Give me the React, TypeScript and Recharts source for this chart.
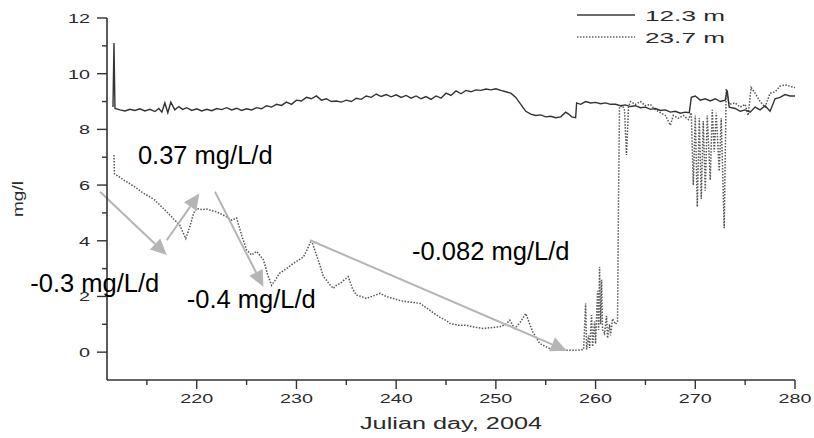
import React from 'react';
import { LineChart, Line, XAxis, YAxis, ReferenceLine, ReferenceDot, Legend } from 'recharts';

// ---- Data (Julian day, mg/l) ----
const days123 = [211.6, 211.7, 211.8, 212.3, 212.8, 213.3, 213.8, 214.3, 214.8, 215.3, 215.8, 216.2, 216.5, 216.8, 217.1, 217.4, 217.8, 218.2, 218.6, 219.0, 219.5, 220.0, 220.5, 221.0, 221.5, 222.0, 222.5, 223.0, 223.5, 224.0, 224.5, 225.0, 225.5, 226.0, 226.5, 227.0, 227.5, 228.0, 228.5, 229.0, 229.5, 230.0, 230.5, 231.0, 231.5, 232.0, 232.5, 233.0, 233.5, 234.0, 234.5, 235.0, 235.5, 236.0, 236.5, 237.0, 237.5, 238.0, 238.5, 239.0, 239.5, 240.0, 240.5, 241.0, 241.5, 242.0, 242.5, 243.0, 243.5, 244.0, 244.5, 245.0, 245.5, 246.0, 246.5, 247.0, 247.5, 248.0, 248.5, 249.0, 249.5, 250.0, 250.5, 251.0, 251.5, 252.0, 252.5, 253.0, 253.5, 254.0, 254.5, 255.0, 255.5, 256.0, 256.5, 257.0, 257.3, 257.6, 258.0, 258.1, 258.5, 259.0, 259.5, 260.0, 260.5, 261.0, 261.5, 262.0, 262.5, 263.0, 263.5, 264.0, 264.5, 265.0, 265.5, 266.0, 266.5, 267.0, 267.5, 268.0, 268.5, 269.0, 269.4, 269.6, 270.0, 270.5, 271.0, 271.5, 272.0, 272.5, 273.0, 273.2, 273.4, 274.0, 274.5, 275.0, 275.5, 276.0, 276.5, 277.0, 277.5, 278.0, 278.5, 279.0, 279.5, 280.0];
const vals123 = [8.8, 11.1, 8.75, 8.7, 8.66, 8.72, 8.68, 8.74, 8.66, 8.72, 8.64, 8.75, 8.62, 8.95, 8.6, 8.98, 8.7, 8.82, 8.72, 8.78, 8.68, 8.74, 8.66, 8.72, 8.67, 8.75, 8.71, 8.78, 8.7, 8.76, 8.68, 8.74, 8.7, 8.78, 8.74, 8.85, 8.8, 8.9, 8.86, 8.98, 8.9, 9.05, 9.02, 9.15, 9.1, 9.2, 9.05, 9.1, 9.0, 9.02, 8.98, 9.05, 9.0, 9.12, 9.08, 9.2, 9.15, 9.27, 9.18, 9.25, 9.17, 9.24, 9.15, 9.22, 9.12, 9.2, 9.1, 9.18, 9.08, 9.2, 9.12, 9.3, 9.22, 9.38, 9.28, 9.4, 9.35, 9.42, 9.4, 9.45, 9.42, 9.46, 9.4, 9.35, 9.3, 9.15, 8.9, 8.65, 8.55, 8.5, 8.52, 8.45, 8.47, 8.42, 8.45, 8.62, 8.55, 8.45, 8.42, 8.95, 8.9, 9.0, 8.95, 8.97, 8.92, 8.95, 8.9, 8.9, 8.85, 8.88, 8.82, 8.85, 8.78, 8.8, 8.72, 8.75, 8.68, 8.7, 8.62, 8.65, 8.58, 8.62, 8.6, 9.15, 9.2, 9.05, 9.1, 9.02, 9.1, 9.0, 9.05, 9.4, 8.8, 8.75, 8.65, 8.7, 8.62, 8.8, 8.7, 8.85, 8.65, 9.1, 9.15, 9.25, 9.2, 9.2];

const days237 = [211.7, 211.75, 212.2, 212.8, 213.5, 214.0, 214.6, 215.2, 215.8, 216.4, 217.0, 217.5, 217.8, 218.3, 218.9, 219.3, 219.7, 220.0, 220.5, 221.0, 221.5, 222.0, 222.5, 223.0, 223.5, 224.0, 224.5, 225.0, 225.5, 226.0, 226.7, 227.1, 227.5, 227.9, 228.3, 229.0, 229.7, 230.2, 230.7, 231.1, 231.5, 232.0, 232.4, 232.7, 233.0, 233.4, 233.7, 234.0, 234.4, 234.8, 235.2, 235.6, 236.0, 236.5, 237.0, 237.7, 238.4, 239.0, 239.7, 240.4, 241.1, 241.8, 242.4, 243.0, 243.7, 244.4, 245.1, 245.4, 246.2, 247.0, 247.8, 248.7, 249.5, 250.4, 251.0, 251.4, 251.9, 252.5, 253.0, 253.4, 253.7, 254.4, 255.4, 256.2, 257.1, 258.0, 258.4, 258.8, 259.0, 259.1, 259.3, 259.4, 259.6, 259.7, 259.9, 260.0, 260.2, 260.3, 260.4, 260.5, 260.6, 260.7, 260.9, 261.1, 261.2, 261.4, 261.5, 261.7, 262.0, 262.2, 262.3, 262.4, 262.7, 262.9, 263.1, 263.3, 263.5, 264.0, 264.5, 265.0, 265.5, 266.0, 266.5, 267.0, 267.5, 267.8, 268.3, 268.8, 269.3, 269.6, 269.8, 270.0, 270.2, 270.4, 270.6, 270.8, 271.0, 271.2, 271.5, 271.7, 271.9, 272.1, 272.4, 272.6, 272.9, 273.1, 273.4, 274.0, 274.5, 275.0, 275.3, 275.6, 276.0, 276.5, 277.0, 277.5, 278.0, 278.5, 279.0, 279.5, 280.0];
const vals237 = [7.08, 6.4, 6.3, 6.15, 6.0, 5.88, 5.72, 5.6, 5.46, 5.25, 5.04, 4.85, 4.74, 4.56, 4.08, 4.5, 5.0, 5.16, 5.12, 5.14, 5.08, 5.04, 4.95, 4.86, 4.74, 4.82, 4.2, 3.67, 3.49, 3.62, 3.31, 2.8, 2.4, 2.6, 2.83, 3.0, 3.19, 3.3, 3.42, 3.7, 4.02, 3.5, 3.07, 2.71, 2.59, 2.4, 2.29, 2.4, 2.47, 2.6, 2.71, 2.3, 2.05, 2.0, 1.93, 2.02, 2.11, 2.0, 1.93, 1.85, 1.81, 1.78, 1.75, 1.6, 1.42, 1.25, 1.12, 1.03, 0.97, 0.97, 0.9, 0.85, 0.88, 0.91, 1.0, 1.15, 0.85, 1.1, 1.39, 1.0, 0.73, 0.31, 0.13, 0.08, 0.07, 0.07, 0.08, 0.1, 1.75, 0.1, 0.6, 0.15, 1.33, 0.2, 1.1, 0.3, 2.2, 0.8, 3.07, 1.0, 2.6, 0.8, 0.67, 1.3, 0.5, 1.0, 0.6, 1.2, 1.0, 1.1, 5.5, 8.81, 8.85, 8.7, 7.08, 8.8, 9.0, 8.9, 9.0, 8.85, 8.9, 8.7, 8.6, 8.5, 8.15, 8.5, 8.4, 8.5, 8.35, 8.6, 6.0, 8.5, 5.22, 8.4, 5.5, 8.3, 5.8, 8.5, 6.18, 8.7, 7.2, 8.6, 6.5, 8.4, 4.45, 9.45, 8.9, 8.95, 8.8, 8.9, 8.5, 9.5, 9.3, 9.0, 8.8, 9.3, 9.35, 9.55, 9.6, 9.55, 9.5];

const seriesNames = ['12.3 m', '23.7 m'];
const xTicks = [215, 220, 225, 230, 235, 240, 245, 250, 255, 260, 265, 270, 275, 280];
const yTicks = [1, 0, 2, 3, 4, 5, 6, 7, 8, 9, 10, 11, 12];
const xTitle = 'Julian day, 2004';
const yTitle = 'mg/l';

// trend annotations: [tail day, tail value, tip day, tip value]
const trendArrows = [
  [210.3, 5.76, 216.99, 3.49],
  [216.99, 4.02, 220.26, 5.7],
  [221.83, 5.76, 226.68, 2.35],
  [231.36, 4.02, 257.11, 0.05],
];
const trendLabels = ['-0.3 mg/L/d', '0.37 mg/L/d', '-0.4 mg/L/d', '-0.082 mg/L/d'];
const trendLabelAnchors = [
  [203.3, 2.16],
  [214.1, 6.76],
  [219.0, 1.58],
  [241.6, 3.31],
];

const data123 = days123.map((d, i) => ({ day: d, v: vals123[i] }));
const data237 = days237.map((d, i) => ({ day: d, v: vals237[i] }));

const FONT = 'Arial, "Liberation Sans", Helvetica, sans-serif';
const ARROW_GREY = '#b5b5b5';
const AXIS_TEXT = '#2a2a2a';

const XTick = (props: any) => {
  const { x, y, payload } = props;
  const major = payload.value % 10 === 0;
  return (
    <g>
      <line x1={x} y1={y} x2={x} y2={y + (major ? 9 : 5)} stroke="#333" strokeWidth={1.4} />
      {major && (
        <text
          x={x}
          y={y + 23}
          textAnchor="middle"
          fontFamily={FONT}
          fontSize={13.5}
          fill={AXIS_TEXT}
          textLength={33}
          lengthAdjust="spacingAndGlyphs"
        >
          {payload.value}
        </text>
      )}
    </g>
  );
};

const YTick = (props: any) => {
  const { x, y, payload } = props;
  const major = payload.value % 2 === 0;
  const s = String(payload.value);
  return (
    <g>
      <line x1={x} y1={y} x2={x - (major ? 10 : 5)} y2={y} stroke="#333" strokeWidth={1.4} />
      {major && (
        <text
          x={x - 17}
          y={y}
          dy="0.36em"
          textAnchor="end"
          fontFamily={FONT}
          fontSize={13.5}
          fill={AXIS_TEXT}
          textLength={s.length * 11}
          lengthAdjust="spacingAndGlyphs"
        >
          {s}
        </text>
      )}
    </g>
  );
};

const arrowShape = (p: any) => {
  const { x1, y1, x2, y2 } = p;
  const dx = x2 - x1;
  const dy = y2 - y1;
  const len = Math.sqrt(dx * dx + dy * dy) || 1;
  const ux = dx / len;
  const uy = dy / len;
  const hl = 16;
  const hw = 7.5;
  const bx = x2 - ux * hl;
  const by = y2 - uy * hl;
  const pts = `${x2},${y2} ${bx - uy * hw},${by + ux * hw} ${bx + uy * hw},${by - ux * hw}`;
  return (
    <g>
      <line x1={x1} y1={y1} x2={bx} y2={by} stroke={ARROW_GREY} strokeWidth={2} />
      <polygon points={pts} fill={ARROW_GREY} />
    </g>
  );
};

const labelShape = (text: string) => (p: any) => (
  <text x={p.cx} y={p.cy} fontFamily={FONT} fontSize={25.5} fill="#000">
    {text}
  </text>
);

const LegendContent = () => (
  <svg width={230} height={46} style={{ display: 'block' }}>
    <line x1={7} y1={15} x2={65} y2={15} stroke="#3a3a3a" strokeWidth={1.3} />
    <line x1={7} y1={37} x2={65} y2={37} stroke="#666" strokeWidth={1.5} strokeDasharray="1.5 1.5" />
    <text x={75} y={20.5} fontFamily={FONT} fontSize={15} fill={AXIS_TEXT} textLength={80} lengthAdjust="spacingAndGlyphs">
      {seriesNames[0]}
    </text>
    <text x={75} y={42.5} fontFamily={FONT} fontSize={15} fill={AXIS_TEXT} textLength={80} lengthAdjust="spacingAndGlyphs">
      {seriesNames[1]}
    </text>
  </svg>
);

const YLabel = (props: any) => {
  const vb = props.viewBox || { x: 0, y: 18, width: 107, height: 362 };
  const cx = 18;
  const cy = vb.y + vb.height / 2;
  return (
    <text
      x={cx}
      y={cy}
      transform={`rotate(-90, ${cx}, ${cy})`}
      textAnchor="middle"
      dominantBaseline="central"
      fontFamily={FONT}
      fontSize={14.5}
      fill={AXIS_TEXT}
      textLength={36}
      lengthAdjust="spacingAndGlyphs"
    >
      {yTitle}
    </text>
  );
};

const XLabel = (props: any) => {
  const vb = props.viewBox || { x: 107, y: 380, width: 688, height: 58 };
  const cx = vb.x + vb.width / 2;
  const cy = vb.y + vb.height - 9;
  return (
    <text
      x={cx}
      y={cy}
      textAnchor="middle"
      fontFamily={FONT}
      fontSize={16}
      fill={AXIS_TEXT}
      textLength={182}
      lengthAdjust="spacingAndGlyphs"
    >
      {xTitle}
    </text>
  );
};

export default function App() {
  return (
    <div style={{ position: 'absolute', left: 0, top: 0, width: 814, height: 438, background: '#fff' }}>
      <LineChart width={814} height={438} margin={{ top: 18, right: 19, bottom: 0, left: 0 }}>
        <XAxis
          type="number"
          dataKey="day"
          domain={[211, 280]}
          ticks={xTicks}
          allowDataOverflow
          height={58}
          tickSize={0}
          tickMargin={0}
          tickLine={false}
          tick={<XTick />}
          axisLine={{ stroke: '#333', strokeWidth: 1.6 }}
          interval={0}
          label={{ content: <XLabel /> }}
        />
        <YAxis
          type="number"
          domain={[-1, 12]}
          ticks={yTicks}
          allowDataOverflow
          width={107}
          tickSize={0}
          tickMargin={0}
          tickLine={false}
          tick={<YTick />}
          axisLine={{ stroke: '#333', strokeWidth: 1.6 }}
          interval={0}
          label={{ content: <YLabel /> }}
        />
        <Legend
          layout="horizontal"
          verticalAlign="middle"
          align="center"
          content={<LegendContent />}
          wrapperStyle={{ position: 'absolute', left: 570, top: 0, width: 230, height: 46 }}
        />
        <Line
          data={data237}
          dataKey="v"
          name={seriesNames[1]}
          type="linear"
          stroke="#555"
          strokeWidth={1.5}
          strokeDasharray="1.5 1.5"
          dot={false}
          isAnimationActive={false}
        />
        <Line
          data={data123}
          dataKey="v"
          name={seriesNames[0]}
          type="linear"
          stroke="#333"
          strokeWidth={1.4}
          dot={false}
          isAnimationActive={false}
        />
        {trendArrows.map((a, i) => (
          <ReferenceLine
            key={'arr' + i}
            segment={[
              { x: a[0], y: a[1] },
              { x: a[2], y: a[3] },
            ]}
            ifOverflow="visible"
            shape={arrowShape}
          />
        ))}
        {trendLabelAnchors.map((p, i) => (
          <ReferenceDot
            key={'lbl' + i}
            x={p[0]}
            y={p[1]}
            r={0}
            ifOverflow="visible"
            shape={labelShape(trendLabels[i])}
          />
        ))}
      </LineChart>
    </div>
  );
}
